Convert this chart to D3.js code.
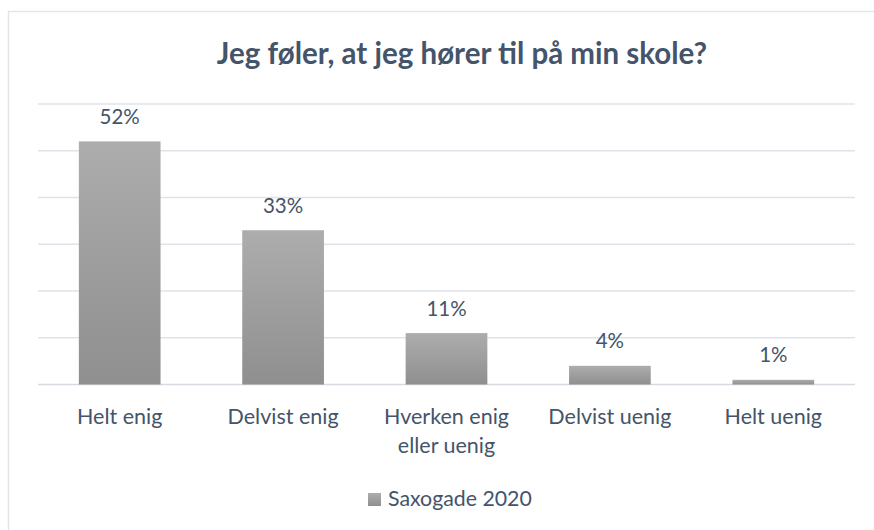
<!DOCTYPE html>
<html>
<head>
<meta charset="utf-8">
<script src="https://cdn.jsdelivr.net/npm/d3@7"></script>
<style>
  html, body { margin: 0; padding: 0; background: #fff; }
  svg { display: block; font-family: Lato, "Open Sans", sans-serif; }
</style>
</head>
<body>
<script>
const width = 874;
const height = 530;

// data
const categories = ["Helt enig", "Delvist enig", "Hverken enig\neller uenig", "Delvist uenig", "Helt uenig"];
const values = [0.52, 0.33, 0.11, 0.04, 0.01];
const valueLabels = ["52%", "33%", "11%", "4%", "1%"];
const gridTicks = [0, 0.1, 0.2, 0.3, 0.4, 0.5, 0.6];
const seriesName = "Saxogade 2020";
const title = "Jeg føler, at jeg hører til på min skole?";

const textColor = "#44546a";

const svg = d3.select("body")
  .append("svg")
  .attr("width", width)
  .attr("height", height);

const defs = svg.append("defs");
const grad = defs.append("linearGradient")
  .attr("id", "barGrad")
  .attr("x1", 0).attr("y1", 0)
  .attr("x2", 0).attr("y2", 1);
grad.append("stop").attr("offset", "0%").attr("stop-color", "#adadad");
grad.append("stop").attr("offset", "100%").attr("stop-color", "#8f8f8f");

// chart frame (runs off the right and bottom edges)
svg.append("rect")
  .attr("x", 8.5)
  .attr("y", 11.5)
  .attr("width", 1000)
  .attr("height", 1000)
  .attr("fill", "none")
  .attr("stroke", "#e2e5ea")
  .attr("stroke-width", 1.5);

const x = d3.scaleBand()
  .domain(categories)
  .range([38, 855])
  .paddingInner(0.5)
  .paddingOuter(0.25);

const y = d3.scaleLinear()
  .domain([0, 0.6])
  .range([384.5, 104]);

// gridlines
svg.append("g")
  .selectAll("line")
  .data(gridTicks)
  .join("line")
  .attr("x1", 38)
  .attr("x2", 855)
  .attr("y1", d => y(d))
  .attr("y2", d => y(d))
  .attr("stroke", d => d === 0 ? "#d6dbe2" : "#dfe3e9")
  .attr("stroke-width", 1.5);

// bars
svg.append("g")
  .selectAll("rect")
  .data(values)
  .join("rect")
  .attr("x", (d, i) => x(categories[i]))
  .attr("y", d => y(d))
  .attr("width", x.bandwidth())
  .attr("height", d => y(0) - y(d))
  .attr("fill", "url(#barGrad)");

// value labels
svg.append("g")
  .selectAll("text")
  .data(values)
  .join("text")
  .attr("x", (d, i) => x(categories[i]) + x.bandwidth() / 2)
  .attr("y", d => y(d) - 17.5)
  .attr("text-anchor", "middle")
  .attr("fill", textColor)
  .attr("font-size", 20.5)
  .text((d, i) => valueLabels[i]);

// category labels
const catG = svg.append("g");
categories.forEach(c => {
  const t = catG.append("text")
    .attr("x", x(c) + x.bandwidth() / 2)
    .attr("y", 424)
    .attr("text-anchor", "middle")
    .attr("fill", textColor)
    .attr("font-size", 21.5);
  c.split("\n").forEach((line, j) => {
    t.append("tspan")
      .attr("x", x(c) + x.bandwidth() / 2)
      .attr("dy", j === 0 ? 0 : 29)
      .text(line);
  });
});

// title
svg.append("text")
  .attr("x", 462)
  .attr("y", 64)
  .attr("text-anchor", "middle")
  .attr("fill", textColor)
  .attr("font-size", 29.5)
  .attr("font-weight", "bold")
  .text(title);

// legend
svg.append("rect")
  .attr("x", 368)
  .attr("y", 493)
  .attr("width", 13)
  .attr("height", 13)
  .attr("fill", "url(#barGrad)");

svg.append("text")
  .attr("x", 388)
  .attr("y", 506)
  .attr("fill", textColor)
  .attr("font-size", 21.3)
  .text(seriesName);
</script>
</body>
</html>
